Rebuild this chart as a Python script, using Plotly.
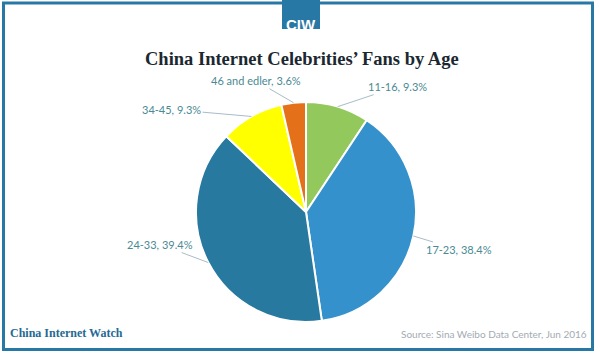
import math
import plotly.graph_objects as go

categories = ["11-16", "17-23", "24-33", "34-45", "46 and edler"]
shares = [9.3, 38.4, 39.4, 9.3, 3.6]
colors = ["#93c95c", "#3591cb", "#27799f", "#ffff00", "#e5701a"]
title_text = "China Internet Celebrities\u2019 Fans by Age"
brand_text = "China Internet Watch"
source_text = "Source: Sina Weibo Data Center, Jun 2016"

W, H = 600, 354
cx, cy, r = 306, 212, 110

fig = go.Figure(go.Pie(
    labels=categories, values=shares, sort=False, direction="clockwise",
    rotation=0, marker=dict(colors=colors, line=dict(color="white", width=2)),
    textinfo="none", hoverinfo="label+percent", showlegend=False,
    domain=dict(x=[(cx - r) / W, (cx + r) / W], y=[(H - cy - r) / H, (H - cy + r) / H]),
))

# label offsets (pixels) from slice edge
offsets = [(60, -20), (46, 14), (-48, -18), (-80, -7), (-38, -22)]
annotations = []
total = sum(shares)
cum = 0
for cat, v, (ax, ay) in zip(categories, shares, offsets):
    mid = (cum + v / 2) / total * 2 * math.pi
    cum += v
    px = cx + r * math.sin(mid)
    py = cy - r * math.cos(mid)
    annotations.append(dict(
        x=px / W, y=1 - py / H, xref="paper", yref="paper",
        text=f"{cat}, {v}%", showarrow=True, arrowhead=0, arrowwidth=1,
        arrowcolor="#a9bcc8", ax=ax, ay=ay,
        font=dict(family="Lato", size=11, color="#4a8a93"),
    ))

annotations += [
    dict(x=302 / W, y=1 - 47 / H, xref="paper", yref="paper", text=f"<b>{title_text}</b>",
         showarrow=False, font=dict(family="Liberation Serif", size=18.5, color="#1b2830")),
    dict(x=301 / W, y=1 - 14 / H, xref="paper", yref="paper", text="<b>CIW</b>",
         showarrow=False, font=dict(family="Liberation Sans", size=15, color="white")),
    dict(x=8 / W, y=1 - 342 / H, xref="paper", yref="paper", text=f"<b>{brand_text}</b>",
         xanchor="left", showarrow=False,
         font=dict(family="Liberation Serif", size=12, color="#256a93")),
    dict(x=589 / W, y=1 - 342 / H, xref="paper", yref="paper", text=source_text,
         xanchor="right", showarrow=False,
         font=dict(family="Lato", size=10, color="#a3abb2")),
]

shapes = [
    dict(type="rect", xref="paper", yref="paper", x0=3.5 / W, x1=592.5 / W,
         y0=1 - 349.5 / H, y1=1 - 3 / H, line=dict(color="#2878a6", width=3)),
    dict(type="rect", xref="paper", yref="paper", x0=282 / W, x1=320 / W,
         y0=1 - 29 / H, y1=1, fillcolor="#2878a6", line=dict(width=0)),
]

fig.update_layout(
    width=W, height=H, margin=dict(l=0, r=0, t=0, b=0),
    paper_bgcolor="white", plot_bgcolor="white",
    annotations=annotations, shapes=shapes,
)
fig.write_html("out.html")
